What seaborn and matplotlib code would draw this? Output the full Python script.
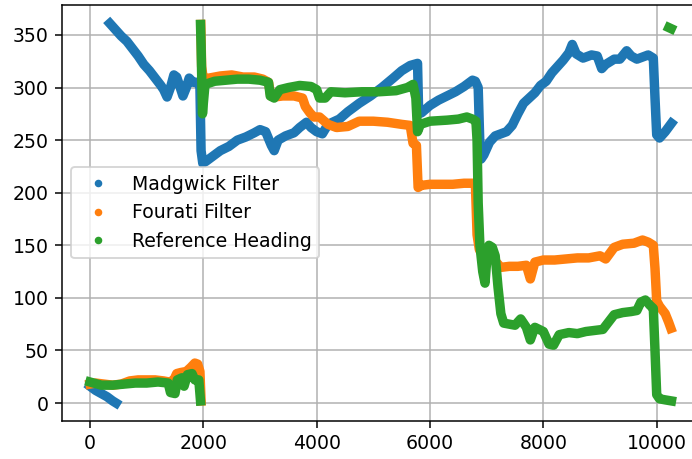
import matplotlib
matplotlib.use("Agg")
import matplotlib.pyplot as plt
import pandas as pd
import seaborn as sns
from matplotlib.lines import Line2D

labels = ["Madgwick Filter", "Fourati Filter", "Reference Heading"]
colors = ["#1f77b4", "#ff7f0e", "#2ca02c"]

# Madgwick filter heading (two pieces because of the 0/360 wrap)
mad_x0 = [0, 100, 200, 300, 400, 460]
mad_y0 = [16, 12, 9, 6, 2, 0]
mad_x1 = [350, 450, 550, 650, 750, 850, 950, 1050, 1150, 1250,
          1300, 1360, 1420, 1480, 1530, 1580, 1640, 1700, 1750, 1820,
          1900, 1940, 1960, 1990, 2050, 2150, 2300, 2450, 2600, 2750,
          2900, 3000, 3100, 3200, 3250, 3320, 3450, 3600, 3700, 3820,
          3900, 4000, 4100, 4200, 4400, 4550, 4750, 4950, 5150, 5350,
          5500, 5650, 5780, 5800, 5850, 6000, 6150, 6300, 6450, 6600,
          6750, 6800, 6850, 6880, 6900, 6950, 7050, 7150, 7250, 7350,
          7450, 7550, 7650, 7750, 7850, 7950, 8050, 8150, 8250, 8350,
          8450, 8510, 8580, 8700, 8850, 8950, 9030, 9100, 9250, 9350,
          9470, 9550, 9650, 9750, 9850, 9940, 9970, 10000, 10050, 10150,
          10260]
mad_y1 = [361, 355, 349, 344, 337, 330, 322, 316, 309, 302,
          298, 291, 300, 312, 310, 302, 292, 300, 309, 305,
          305, 300, 240, 228, 230, 234, 240, 244, 250, 253,
          257, 260, 258, 245, 240, 250, 254, 257, 262, 267,
          262, 258, 256, 265, 270, 277, 285, 292, 300, 309,
          316, 321, 323, 275, 276, 283, 288, 292, 296, 301,
          307, 306, 300, 245, 232, 236, 248, 254, 256, 258,
          264, 275, 285, 290, 295, 302, 306, 314, 320, 326,
          333, 341, 332, 328, 331, 330, 318, 322, 327, 327,
          335, 330, 327, 329, 331, 328, 290, 255, 252, 258,
          266]

# Fourati filter heading
four_x0 = [0, 100, 250, 400, 550, 700, 850, 1000, 1150, 1300,
           1400, 1480, 1530, 1600, 1700, 1780, 1850, 1900, 1940, 1960]
four_y0 = [18, 19, 18, 17, 18, 21, 22, 22, 22, 21,
           20, 22, 28, 29, 30, 34, 38, 37, 30, 2]
four_x1 = [1955, 1970, 2000, 2100, 2300, 2500, 2700, 2900, 3050, 3150,
           3190, 3250, 3400, 3600, 3750, 3800, 3880, 3950, 4050, 4200,
           4350, 4550, 4750, 5000, 5250, 5500, 5650, 5700, 5760, 5790,
           5850, 6000, 6200, 6400, 6600, 6800, 6830, 6870, 6950, 7100,
           7250, 7400, 7550, 7700, 7770, 7850, 8000, 8200, 8400, 8600,
           8800, 9000, 9100, 9250, 9400, 9600, 9750, 9850, 9940, 9970,
           10000, 10050, 10150, 10210, 10250]
four_y1 = [360, 320, 308, 309, 311, 312, 310, 310, 308, 305,
           292, 291, 292, 292, 290, 282, 276, 272, 272, 265,
           262, 263, 268, 268, 267, 265, 264, 247, 245, 205,
           207, 208, 208, 208, 209, 209, 160, 146, 139, 138,
           129, 130, 130, 131, 118, 134, 136, 136, 137, 138,
           138, 140, 137, 148, 151, 152, 155, 153, 150, 128,
           97, 92, 85, 77, 71]

# Reference heading
ref_x0 = [0, 200, 400, 600, 800, 1000, 1200, 1380, 1420, 1500,
          1540, 1620, 1660, 1720, 1800, 1850, 1920, 1950]
ref_y0 = [20, 17, 17, 18, 19, 19, 20, 19, 10, 9,
          22, 24, 16, 27, 28, 22, 22, 2]
ref_x1 = [1950, 1960, 1975, 1985, 2000, 2030, 2200, 2400, 2600, 2800,
          3000, 3150, 3180, 3250, 3350, 3500, 3700, 3900, 4000, 4050,
          4150, 4250, 4500, 4800, 5100, 5400, 5600, 5700, 5750, 5780,
          5830, 6000, 6300, 6500, 6650, 6750, 6810, 6830, 6850, 6880,
          6930, 6970, 7000, 7040, 7100, 7150, 7200, 7250, 7300, 7400,
          7500, 7600, 7700, 7770, 7850, 8000, 8100, 8180, 8280, 8450,
          8600, 8750, 8900, 9050, 9150, 9250, 9400, 9550, 9650, 9720,
          9800, 9880, 9940, 9970, 10000, 10050, 10150, 10260]
ref_y1 = [360, 340, 300, 275, 285, 303, 306, 307, 308, 308,
          307, 305, 292, 290, 298, 300, 302, 301, 298, 290,
          290, 296, 295, 296, 296, 297, 300, 303, 290, 258,
          265, 268, 269, 270, 272, 270, 268, 250, 190, 150,
          125, 114, 135, 150, 148, 140, 110, 85, 76, 75,
          74, 80, 72, 60, 72, 68, 56, 55, 65, 67,
          66, 68, 69, 70, 77, 84, 86, 87, 88, 96,
          98, 93, 90, 50, 8, 4, 3, 2]
ref_x2 = [10215, 10255]
ref_y2 = [357, 356]

x_ticks = [0, 2000, 4000, 6000, 8000, 10000]
y_ticks = [0, 50, 100, 150, 200, 250, 300, 350]

pieces = [
    (labels[0], "m0", mad_x0, mad_y0),
    (labels[0], "m1", mad_x1, mad_y1),
    (labels[1], "f0", four_x0, four_y0),
    (labels[1], "f1", four_x1, four_y1),
    (labels[2], "r0", ref_x0, ref_y0),
    (labels[2], "r1", ref_x1, ref_y1),
    (labels[2], "r2", ref_x2, ref_y2),
]
df = pd.concat(
    [pd.DataFrame({"sample": xs, "heading": ys, "series": s, "seg": g})
     for s, g, xs, ys in pieces],
    ignore_index=True,
)

dpi = 136
fig = plt.figure(figsize=(692 / dpi, 459 / dpi), dpi=dpi)
fig.patch.set_facecolor("white")
ax = fig.add_axes([62 / 692, 1 - 420.7 / 459, (700 - 62) / 692, (420.7 - 5) / 459])

sns.lineplot(data=df, x="sample", y="heading", hue="series", units="seg",
             estimator=None, sort=False, hue_order=labels,
             palette=dict(zip(labels, colors)), linewidth=5,
             legend=False, ax=ax)

ax.set_xlim(-494, 10764)
ax.set_ylim(-16.8, 378.5)
ax.set_xticks(x_ticks)
ax.set_yticks(y_ticks)
ax.set_xlabel("")
ax.set_ylabel("")
ax.grid(True)

handles = [Line2D([], [], marker=".", linestyle="None", color=c, markersize=6)
           for c in colors]
ax.legend(handles, labels, loc="center left", numpoints=1)

fig.savefig("out.png", dpi=dpi, facecolor="white")
